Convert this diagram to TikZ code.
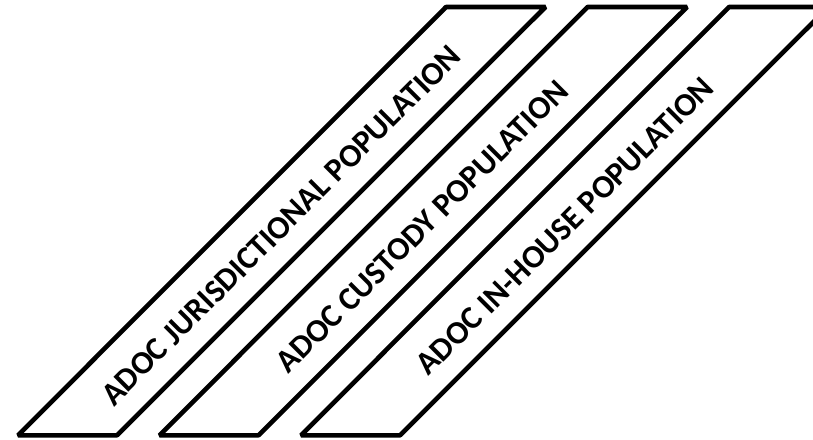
\documentclass[tikz,border=0pt]{standalone}
\usepackage{fontspec}
\setmainfont{Carlito}
\begin{document}
\begin{tikzpicture}[x=1pt,y=1pt,
  band/.style={draw=black, line width=4.6pt, line join=bevel},
  lbl/.style={rotate=45, font=\fontsize{32.5}{39}\selectfont\bfseries, inner sep=0pt, text=black}]
\useasboundingbox (0,0) rectangle (813,439);
\clip (0,0) rectangle (813,439);
\foreach \i in {0,1,2}{
  \draw[band] ({18+141.5*\i},3.7) -- ({117+141.5*\i},3.7) -- ({545.5+141.5*\i},432) -- ({446+141.5*\i},432) -- cycle;
}
\node[lbl] (t1) at (281,213.5) {ADOC JURISDICTIONAL POPULATION};
\node[lbl] (t2) at (422,212.5) {ADOC CUSTODY POPULATION};
\node[lbl] (t3) at (565,213) {ADOC IN-HOUSE POPULATION};
\end{tikzpicture}
\end{document}
